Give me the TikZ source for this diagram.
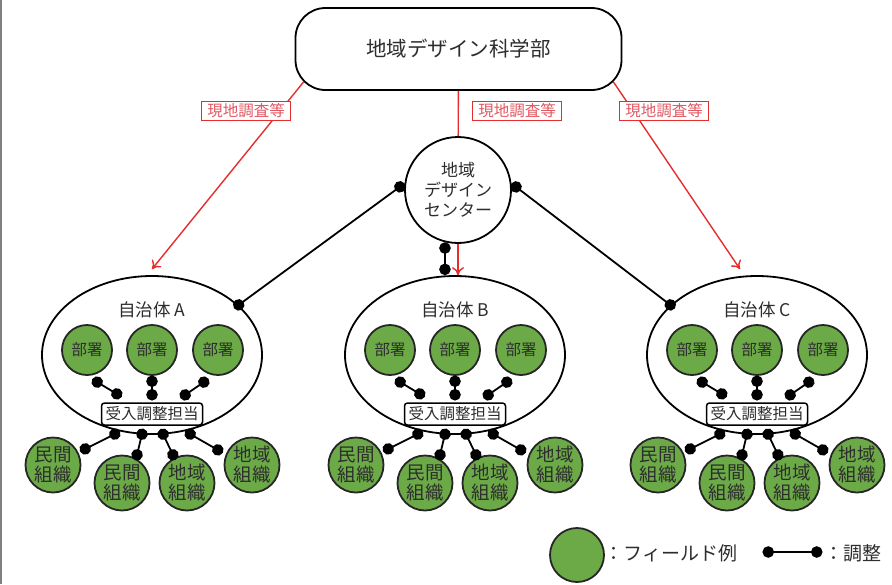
\documentclass[tikz,border=0pt]{standalone}
\usepackage{fontspec}
\setmainfont{Noto Sans CJK JP}
\usetikzlibrary{arrows.meta,shapes.geometric,calc}
\definecolor{FieldClr}{RGB}{108,170,72}
\definecolor{SurveyClr}{RGB}{228,45,45}
\definecolor{SurveyTxt}{RGB}{226,88,98}
\definecolor{TextClr}{RGB}{45,45,45}

\begin{document}
\begin{tikzpicture}[x=1pt,y=-1pt,
  every node/.append style={text=TextClr},
  faculty/.style={draw,line width=1.8pt,rounded corners=30pt,minimum width=326pt,minimum height=82pt,font=\fontsize{20.5}{22}\selectfont},
  hub/.style={circle,draw,line width=1.8pt,minimum size=106pt,inner sep=0pt,align=center,font=\fontsize{17}{20}\selectfont},
  town/.style={ellipse,draw,line width=1.8pt,minimum width=220pt,minimum height=158pt,inner sep=0pt},
  field/.style={circle,draw=black!85,line width=1.8pt,fill=FieldClr,inner sep=0pt,align=center},
  dept/.style={field,minimum size=50pt,font=\fontsize{15.5}{17}\selectfont},
  org/.style={field,minimum size=55pt,font=\fontsize{18.5}{20}\selectfont},
  desk/.style={draw,line width=1.5pt,rounded corners=3pt,fill=white,minimum width=101pt,minimum height=22pt,inner sep=0pt,font=\fontsize{15.5}{17}\selectfont},
  adj/.style={line width=1.8pt,{Circle[length=11.5pt,width=11.5pt]}-{Circle[length=11.5pt,width=11.5pt]}},
  pin/.style={shorten <=-5.5pt,shorten >=-5.5pt},
  survey/.style={SurveyClr,line width=1.4pt,-{To[length=8pt,width=12pt]}},
  tag/.style={draw=SurveyClr,line width=1.1pt,fill=white,text=SurveyTxt,inner xsep=6pt,inner ysep=0pt,minimum height=19pt,font=\fontsize{15.5}{17}\selectfont}
]
\useasboundingbox (0,0) rectangle (892,584);
\draw[gray,line width=2pt] (1,0) -- (1,584);

\node[faculty] (top) at (458.5,49) {地域デザイン科学部};
\node[hub] (hub) at (458,190) {地域\\デザイン\\センター};

\foreach \grp/\cx/\lbl in {a/152/A,b/455/B,c/757/C}{
  \begin{scope}[shift={(\cx,0)}]
    \node[town] (\grp-ell) at (0,355) {};
    \node[font=\fontsize{17.5}{20}\selectfont] (\grp-name) at (0,310) {自治体\hspace{4pt}\lbl};
    \node[dept] (\grp-d1) at (-65,350) {部署};
    \node[dept] (\grp-d2) at (0,350) {部署};
    \node[dept] (\grp-d3) at (66,350) {部署};
    \node[desk] (\grp-desk) at (0,414) {受入調整担当};
    \node[org] (\grp-o1) at (-99,465) {民間\\組織};
    \node[org] (\grp-o2) at (-30,483) {民間\\組織};
    \node[org] (\grp-o3) at (35,483) {地域\\組織};
    \node[org] (\grp-o4) at (100,465) {地域\\組織};
    % dot-to-dot links
    \foreach \i/\xa/\ya/\xb/\yb in {t1/-55/382/-35/394,t2/0/381/0/395,t3/52/382/33/395,
        b1/-37/434/-67/449,b2/-10/434/-15/455,b3/11/434/21/455,b4/38/434/66/450}{
      \coordinate (\grp-\i s) at (\xa,\ya);
      \coordinate (\grp-\i e) at (\xb,\yb);
      \draw[adj,pin] (\grp-\i s) -- (\grp-\i e);
    }
  \end{scope}
}

\draw[adj,shorten >=-5.5pt] (hub.173) -- (a-ell.30);
\draw[adj,shorten >=-5.5pt] (hub.7) -- (c-ell.150);
\draw[adj] (hub.256) -- (hub.256 |- b-ell.north);

\draw[survey] ([xshift=9pt,yshift=9pt]top.south west) -- ([yshift=6pt]a-ell.north);
\draw[survey] ([xshift=-9pt,yshift=9pt]top.south east) -- ([xshift=-17pt,yshift=6pt]c-ell.north);
\draw[SurveyClr,line width=1.4pt] (top) -- (hub);
\draw[survey] (hub) -- (hub |- b-ell.north);

\node[tag] (tag-a) at (246,111) {現地調査等};
\node[tag] (tag-b) at (517,111) {現地調査等};
\node[tag] (tag-c) at (664,111) {現地調査等};

% legend
\node[field,minimum size=54pt] (key-field) at (577,555) {};
\node[anchor=west,font=\fontsize{19}{21}\selectfont] (key-ftext) at (601,553) {：フィールド例};
\coordinate (key-s) at (768,552);
\coordinate (key-e) at (817,552);
\draw[adj,pin] (key-s) -- (key-e);
\node[anchor=west,font=\fontsize{19}{21}\selectfont] (key-atext) at (821,553) {：調整};
\end{tikzpicture}
\end{document}
